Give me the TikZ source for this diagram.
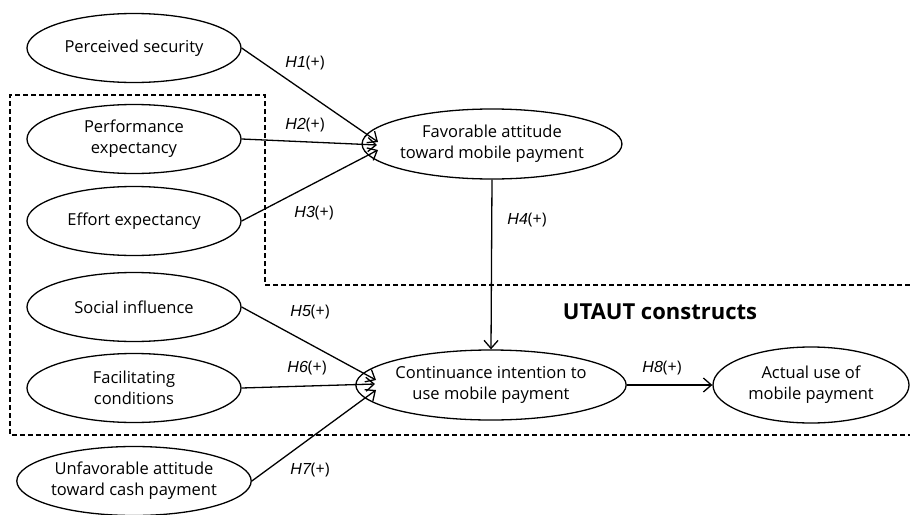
\documentclass[tikz,border=0pt]{standalone}
\usepackage{fontspec}
\setmainfont{Open Sans}
\newfontfamily\lblfont{Liberation Sans}
\usetikzlibrary{shapes.geometric,arrows.meta}
\begin{document}
\begin{tikzpicture}[x=1pt,y=-1pt,
  cons/.style={ellipse,draw,line width=1.3pt,inner sep=0pt,minimum width=214pt,minimum height=69pt,align=center,font=\fontsize{16.5}{21}\selectfont},
  arr/.style={line width=1.3pt,-{Straight Barb[length=8pt,width=14pt,line width=1.3pt]}},
  hyp/.style={font=\fontsize{16}{18}\selectfont},
  box/.style={dashed,line width=1.2pt,dash pattern=on 5pt off 3pt}]
\useasboundingbox (0,0) rectangle (910,514);
\draw[box] (910,285) -- (265,285) -- (265,95) -- (10,95) -- (10,435) -- (910,435);
\node[cons] (ps) at (134,48) {Perceived security};
\node[cons] (pe) at (134,139) {Performance\\expectancy};
\node[cons] (ee) at (134,221) {Effort expectancy};
\node[cons] (si) at (134,307) {Social influence};
\node[cons] (fc) at (134,388) {Facilitating\\conditions};
\node[cons] (ua) at (134,481) {Unfavorable attitude\\toward cash payment};
\node[cons,minimum width=230pt,minimum height=70pt] (fav) at (492,144) {Favorable attitude\\toward mobile payment};
\node[cons,minimum width=232pt,minimum height=70pt] (ci) at (491,385) {Continuance intention to\\use mobile payment};
\node[cons,minimum width=196pt,minimum height=76pt] (au) at (811,385) {Actual use of\\mobile payment};
\coordinate (favin1) at (378,142);
\coordinate (favin2) at (377,145);
\coordinate (favin3) at (378,150);
\coordinate (ciin1) at (376,380);
\coordinate (ciin2) at (375,384);
\coordinate (ciin3) at (376,390);
\draw[arr] (ps.east) -- (favin1);
\draw[arr] (pe.east) -- (favin2);
\draw[arr] (ee.east) -- (favin3);
\draw[arr] (fav.south) -- (ci.north);
\draw[arr] (si.east) -- (ciin1);
\draw[arr] (fc.east) -- (ciin2);
\draw[arr] (ua.east) -- (ciin3);
\draw[arr] (ci.east) -- (au.west);
\node[hyp] (h1) at (305,63) {{\lblfont\itshape H1}(+)};
\node[hyp] (h2) at (305,125) {{\lblfont\itshape H2}(+)};
\node[hyp] (h3) at (314,213) {{\lblfont\itshape H3}(+)};
\node[hyp] (h4) at (527,220) {{\lblfont\itshape H4}(+)};
\node[hyp] (h5) at (310,312) {{\lblfont\itshape H5}(+)};
\node[hyp] (h6) at (307,368) {{\lblfont\itshape H6}(+)};
\node[hyp] (h7) at (310,470) {{\lblfont\itshape H7}(+)};
\node[hyp] (h8) at (662,368) {{\lblfont\itshape H8}(+)};
\node[font=\bfseries\fontsize{22}{26}\selectfont] (ut) at (660,312) {UTAUT constructs};
\end{tikzpicture}
\end{document}
